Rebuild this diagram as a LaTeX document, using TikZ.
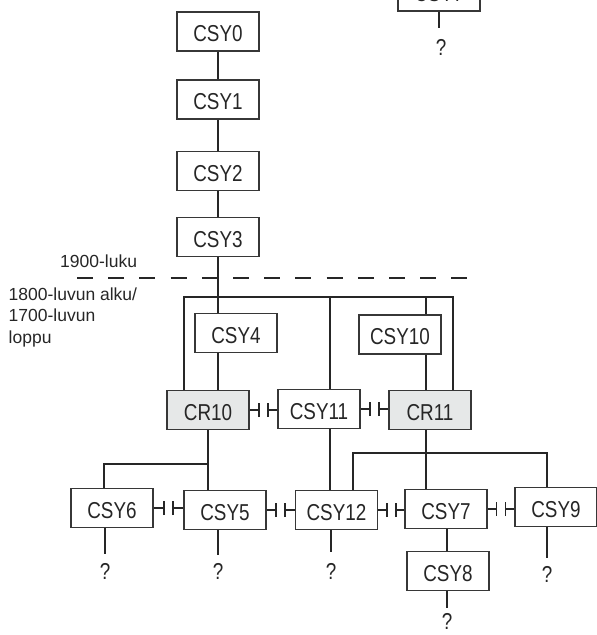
\documentclass[tikz,border=0pt]{standalone}
\usepackage{fontspec}
\setmainfont{Liberation Sans}
\newfontfamily\boxfont[FakeStretch=0.82]{Liberation Sans}
\definecolor{boxgray}{RGB}{230,232,232}
\definecolor{lineblack}{RGB}{38,38,38}
\definecolor{boxline}{RGB}{55,55,55}
\newcommand\septie[2]{%
  \path (#1.east) -- coordinate[pos=0.5] (mid) (#2.west |- #1.east);
  \draw[conn] (#1.east) -- ([xshift=-4.5pt]mid) ++(0,7) -- ++(0,-14);
  \draw[conn] (#2.west |- #1.east) -- ([xshift=4.5pt]mid) ++(0,7) -- ++(0,-14);
}
\begin{document}
\begin{tikzpicture}[x=1pt,y=-1pt,
  msbox/.style={draw=boxline, line width=1.2pt, minimum width=82pt, minimum height=39pt,
    inner sep=0pt, font=\boxfont\fontsize{23}{23}\selectfont, text height=20pt, text depth=0pt,
    text=black!85},
  crbox/.style={msbox, fill=boxgray},
  qmark/.style={inner sep=0pt, font=\boxfont\fontsize{23}{23}\selectfont, text=black!85},
  conn/.style={draw=lineblack, line width=1.8pt},
  lab/.style={inner sep=0pt, anchor=base west, font=\fontsize{17.5}{21}\selectfont, text=black!85}]
\useasboundingbox (0,0) rectangle (597,635);

% boxes
\node[msbox] (csyx)  at (439,-8.5) {CSY7};
\node[msbox] (csy0)  at (218,31.5) {CSY0};
\node[msbox] (csy1)  at (218,99.5) {CSY1};
\node[msbox] (csy2)  at (218,171) {CSY2};
\node[msbox] (csy3)  at (218,237) {CSY3};
\node[msbox] (csy4)  at (236,333) {CSY4};
\node[msbox] (csy10) at (400,334.5) {CSY10};
\node[crbox] (cr10)  at (208,410) {CR10};
\node[msbox] (csy11) at (319,409) {CSY11};
\node[crbox] (cr11)  at (430,410) {CR11};
\node[msbox] (csy6)  at (112,508) {CSY6};
\node[msbox] (csy5)  at (225,510) {CSY5};
\node[msbox] (csy12) at (336.5,510) {CSY12};
\node[msbox] (csy7)  at (446,509) {CSY7};
\node[msbox] (csy9)  at (556,507) {CSY9};
\node[msbox] (csy8)  at (448,571) {CSY8};

% question marks
\node[qmark] (qx)  at (441,47) {?};
\node[qmark] (q6)  at (105,571.7) {?};
\node[qmark] (q5)  at (218,571.5) {?};
\node[qmark] (q12) at (331,571.7) {?};
\node[qmark] (q9)  at (547,574) {?};
\node[qmark] (q8)  at (447,621.7) {?};

% labels
\node[lab] (l1900) at (60,267.3) {1900-luku};
\node[lab] (l18a)  at (8.5,300.7) {1800-luvun alku/};
\node[lab] (l18b)  at (8.5,321.7) {1700-luvun};
\node[lab] (l18c)  at (8.5,343) {loppu};

% dashed divider
\coordinate (dashL) at (77,278);
\coordinate (dashR) at (467,278);
\draw[conn, dash pattern=on 16pt off 15.2pt] (dashL) -- (dashR);

% coordinates for buses and stems
\coordinate (busL) at (184,297);
\coordinate (busR) at (453,297);
\coordinate (s11) at (330,297);
\coordinate (s10) at (426,297);
\coordinate (busAL) at (104,464);
\coordinate (busBL) at (353,453);
\coordinate (busBR) at (547,453);
\coordinate (ex) at (439,28.3);
\coordinate (e6) at (105,554.3);
\coordinate (e5) at (218,555);
\coordinate (e12) at (331,551.7);
\coordinate (e9) at (547,558);
\coordinate (e8) at (447,608.3);

% main stem
\draw[conn] (csy0) -- (csy1);
\draw[conn] (csy1) -- (csy2);
\draw[conn] (csy2) -- (csy3);
\draw[conn] (csy3.south) -- (csy4.north -| csy3.south);
\draw[conn] (csy4.south -| csy3.south) -- (cr10.north -| csy3.south);

% upper bus
\draw[conn] (cr10.north -| busL) -- (busL) -- (busR) -- (cr11.north -| busR);
\draw[conn] (s11) -- (csy11.north -| s11);
\draw[conn] (s10) -- (csy10.north -| s10);
\draw[conn] (csy10.south -| s10) -- (cr11.north -| s10);

% CR10 descendants
\draw[conn] (cr10.south) -- (csy5.north -| cr10.south);
\draw[conn] (csy6.north -| busAL) -- (busAL) -- (busAL -| cr10.south);

% CSY11 -> CSY12
\draw[conn] (csy11.south -| s11) -- (csy12.north -| s11);

% CR11 descendants
\draw[conn] (cr11.south -| s10) -- (csy7.north -| s10);
\draw[conn] (csy12.north -| busBL) -- (busBL) -- (busBR) -- (csy9.north -| busBR);
\draw[conn] (csy7.south -| e8) -- (csy8.north -| e8);

% stems to unknowns
\draw[conn] (csyx.south -| ex) -- (ex);
\draw[conn] (csy6.south -| e6) -- (e6);
\draw[conn] (csy5.south -| e5) -- (e5);
\draw[conn] (csy12.south -| e12) -- (e12);
\draw[conn] (csy9.south -| e9) -- (e9);
\draw[conn] (csy8.south -| e8) -- (e8);

% contemporaneous ties
\septie{cr10}{csy11}
\septie{csy11}{cr11}
\septie{csy6}{csy5}
\septie{csy5}{csy12}
\septie{csy12}{csy7}
\septie{csy7}{csy9}
\end{tikzpicture}
\end{document}
